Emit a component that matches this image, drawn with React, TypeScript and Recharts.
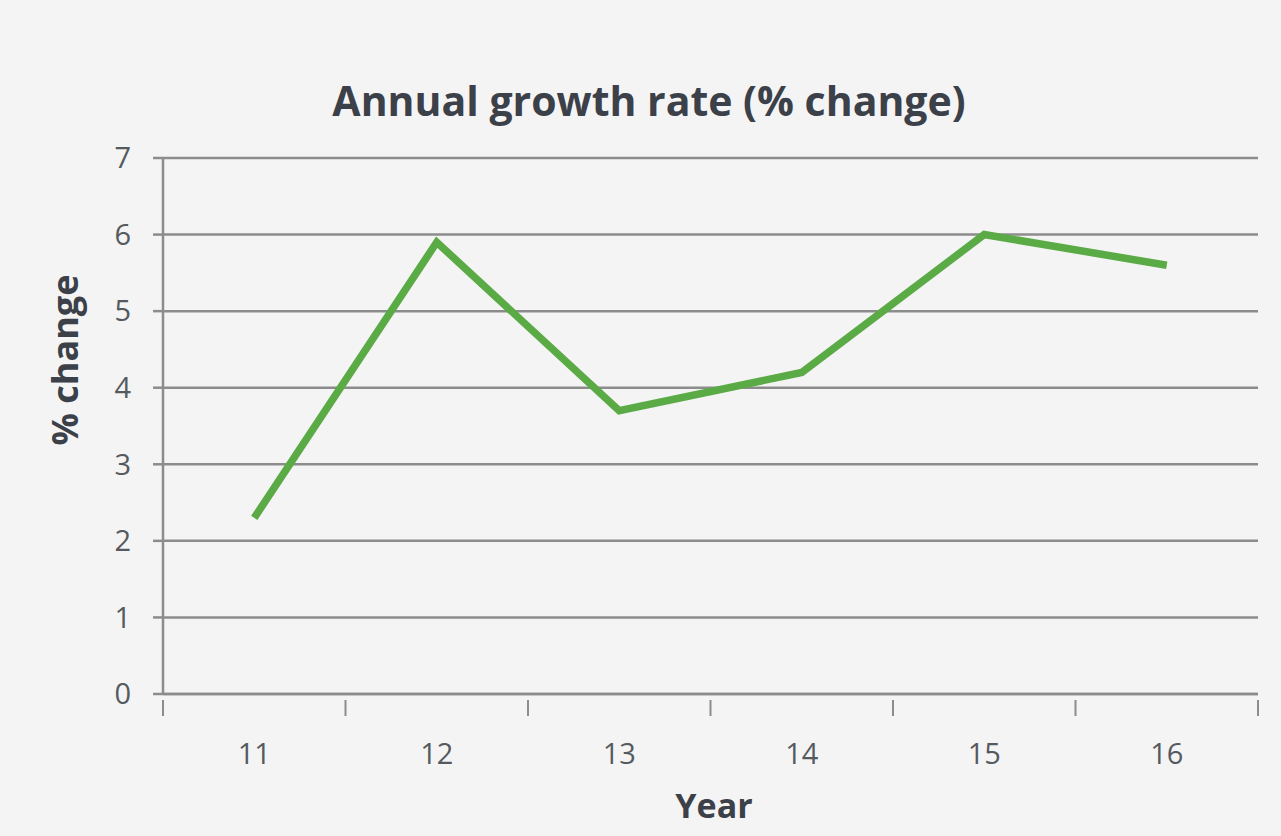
import { LineChart, Line, XAxis, YAxis, CartesianGrid, Label } from "recharts";

const years = ["11", "12", "13", "14", "15", "16"];
const growth = [2.3, 5.9, 3.7, 4.2, 6.0, 5.6];
const yTicks = [0, 1, 2, 3, 4, 5, 6, 7];

const data = years.map((year, i) => ({ year, growth: growth[i] }));

const FONT = "'Open Sans', 'Liberation Sans', sans-serif";
const GRID = "#8c8c8c";
const TEXT = "#555a5f";
const TITLE = "#3b4049";

// category label in the middle, small tick marks on the band edges
function YearTick(props: any) {
  const { x, y, payload, index, width } = props;
  const band = width / years.length;
  const left = x - band / 2;
  const right = x + band / 2;
  return (
    <g>
      <line x1={left} y1={y - 2} x2={left} y2={y + 14} stroke={GRID} strokeWidth={2} />
      {index === years.length - 1 && (
        <line x1={right} y1={y - 2} x2={right} y2={y + 14} stroke={GRID} strokeWidth={2} />
      )}
      <text x={x} y={y + 62} textAnchor="middle" fill={TEXT} fontSize={29} fontFamily={FONT}>
        {payload.value}
      </text>
    </g>
  );
}

export default function App() {
  const band = 1095 / years.length;
  return (
    <div
      style={{
        position: "absolute",
        left: 0,
        top: 0,
        width: 1281,
        height: 836,
        background: "#f4f4f4",
        fontFamily: FONT,
      }}
    >
      <div style={{ position: "absolute", left: 0, top: 0 }}>
        <LineChart
          width={1281}
          height={836}
          data={data}
          margin={{ top: 158, right: 23, left: 0, bottom: 0 }}
        >
          <CartesianGrid vertical={false} stroke={GRID} strokeWidth={2.5} />
          <XAxis
            dataKey="year"
            height={142}
            padding={{ left: band / 2, right: band / 2 }}
            axisLine={{ stroke: GRID, strokeWidth: 2.5 }}
            tickLine={false}
            tick={<YearTick />}
            interval={0}
          />
          <YAxis
            width={163}
            domain={[0, 7]}
            ticks={yTicks}
            interval={0}
            axisLine={{ stroke: GRID, strokeWidth: 2.5 }}
            tickLine={{ stroke: GRID, strokeWidth: 2.5 }}
            tickSize={10}
            tickMargin={22}
            tick={{ fill: TEXT, fontSize: 29, fontFamily: FONT }}
          />
          <Line
            type="linear"
            dataKey="growth"
            stroke="#5aaa45"
            strokeWidth={7.5}
            dot={false}
            activeDot={false}
            strokeLinejoin="miter"
            isAnimationActive={false}
          />
        </LineChart>
      </div>
      <svg
        width={1281}
        height={836}
        style={{ position: "absolute", left: 0, top: 0, pointerEvents: "none" }}
      >
        <text
          x={649}
          y={116}
          textAnchor="middle"
          fill={TITLE}
          fontSize={41}
          fontWeight={700}
          fontFamily={FONT}
        >
          Annual growth rate (% change)
        </text>
        <text
          x={78}
          y={360}
          textAnchor="middle"
          transform="rotate(-90 78 360)"
          fill={TITLE}
          fontSize={36}
          fontWeight={700}
          fontFamily={FONT}
        >
          % change
        </text>
        <text
          x={714}
          y={818}
          textAnchor="middle"
          fill={TITLE}
          fontSize={34}
          fontWeight={700}
          fontFamily={FONT}
        >
          Year
        </text>
      </svg>
    </div>
  );
}
